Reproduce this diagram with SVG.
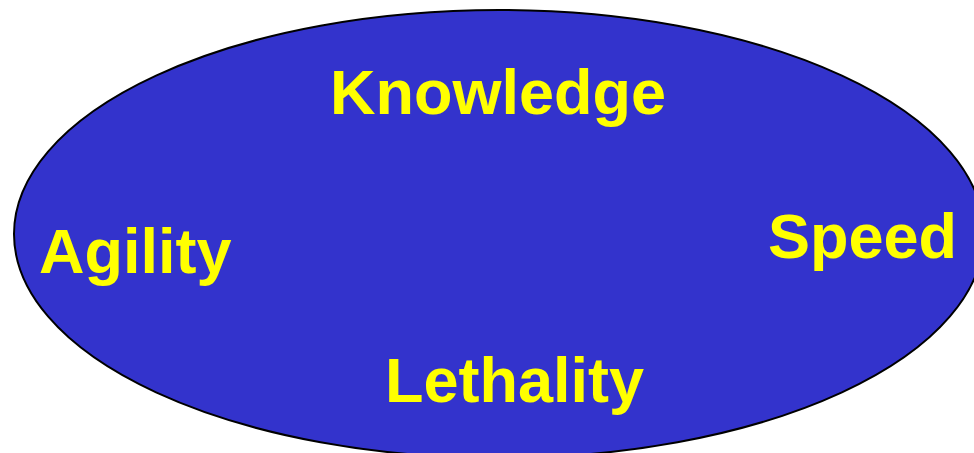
<svg xmlns="http://www.w3.org/2000/svg" width="974" height="453" viewBox="0 0 974 453">
<style>
.lbl{font-family:"Liberation Sans",Arial,sans-serif;font-weight:bold;font-size:63px;fill:#FFFF00}
</style>
<rect width="974" height="453" fill="#FFFFFF"/>
<g id="ellipse">
<ellipse cx="499" cy="234" rx="485" ry="224" fill="#3333CC" stroke="#000000" stroke-width="2"/>
</g>
<g id="knowledge"><text class="lbl" x="330" y="114">Knowledge</text></g>
<g id="agility"><text class="lbl" x="39" y="273">Agility</text></g>
<g id="speed"><text class="lbl" x="768" y="258">Speed</text></g>
<g id="lethality"><text class="lbl" x="385" y="402">Lethality</text></g>
</svg>
